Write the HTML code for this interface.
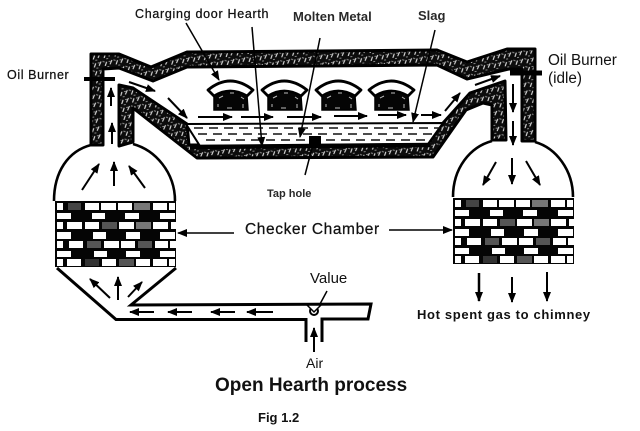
<!DOCTYPE html>
<html><head><meta charset="utf-8"><style>
html,body{margin:0;padding:0;background:#fff}
svg{display:block}
text{font-family:"Liberation Sans",sans-serif;fill:#111}
</style></head><body>
<svg width="640" height="431" viewBox="0 0 640 431" xmlns="http://www.w3.org/2000/svg">
<defs>
<pattern id="h" width="11" height="8" patternUnits="userSpaceOnUse" patternTransform="rotate(-8)">
<rect width="11" height="8" fill="#0c0c0c"/>
<path d="M1 7L3.500 3M7 8L9 4" stroke="#e4e4e4" stroke-width="1.100" fill="none"/>
<path d="M0 4L2 4M5 3L7 4M9 1L11 1" stroke="#888" stroke-width="1"/>
</pattern>
<marker id="a" markerWidth="11" markerHeight="8" refX="9" refY="4" orient="auto" markerUnits="userSpaceOnUse"><path d="M0 0L10 4L0 8Z" fill="#000"/></marker>
<g id="bricks">
<rect x="0" y="0" width="121" height="66" fill="#050505"/>
<g fill="#fff">
<rect x="2" y="2" width="6" height="7"/><rect x="13" y="2" width="13" height="7" fill="#444"/><rect x="30" y="2" width="14" height="7"/><rect x="46" y="2" width="15" height="7"/><rect x="63" y="2" width="14" height="7"/><rect x="79" y="2" width="16" height="7" fill="#777"/><rect x="98" y="2" width="14" height="7"/><rect x="114" y="2" width="6" height="7"/>
<rect x="2" y="12" width="14" height="6"/><rect x="37" y="12" width="13" height="6"/><rect x="70" y="12" width="14" height="6"/><rect x="105" y="12" width="15" height="6"/>
<rect x="2" y="21" width="6" height="7"/><rect x="12" y="21" width="15" height="7"/><rect x="30" y="21" width="14" height="7"/><rect x="47" y="21" width="15" height="7" fill="#555"/><rect x="64" y="21" width="15" height="7"/><rect x="81" y="21" width="15" height="7" fill="#777"/><rect x="98" y="21" width="15" height="7"/><rect x="116" y="21" width="5" height="7"/>
<rect x="2" y="31" width="14" height="7"/><rect x="38" y="31" width="13" height="7"/><rect x="71" y="31" width="14" height="7"/><rect x="105" y="31" width="15" height="7"/>
<rect x="2" y="40" width="6" height="7"/><rect x="14" y="40" width="14" height="7"/><rect x="32" y="40" width="14" height="7" fill="#555"/><rect x="49" y="40" width="15" height="7"/><rect x="66" y="40" width="14" height="7"/><rect x="83" y="40" width="14" height="7" fill="#555"/><rect x="100" y="40" width="13" height="7"/><rect x="115" y="40" width="6" height="7"/>
<rect x="2" y="50" width="14" height="6"/><rect x="39" y="50" width="13" height="6"/><rect x="71" y="50" width="14" height="6"/><rect x="105" y="50" width="15" height="6"/>
<rect x="2" y="58" width="6" height="7"/><rect x="12" y="58" width="14" height="7"/><rect x="30" y="58" width="14" height="7" fill="#333"/><rect x="47" y="58" width="14" height="7"/><rect x="64" y="58" width="15" height="7" fill="#555"/><rect x="81" y="58" width="14" height="7"/><rect x="98" y="58" width="14" height="7"/><rect x="114" y="58" width="6" height="7"/>
</g>
</g>
<g id="door">
<path d="M1 11Q23 -7 46 11L40 17Q23 7 7 17Z" fill="#fff" stroke="#000" stroke-width="2.800" stroke-linejoin="round"/>
<path d="M7 17Q23 8 40 17L41 31L7 31Z" fill="#050505" stroke="#000" stroke-width="1.500"/>
<path d="M12 19L16 17M23 14L27 14M34 18L37 20M36 25L36 29M11 25L11 28M20 29L25 29" stroke="#bbb" stroke-width="1" fill="none"/>
</g>
</defs>
<rect width="640" height="431" fill="#fff"/>

<!-- roof -->
<path d="M91 145L91 54L119 54L151 67L187 52L437 50L467 62L507 49L535 49L535 141L522 141L522 69L509 69L467 79L437 65L187 67L153 81L119 68L103 69L103 145Z" fill="url(#h)" stroke="#000" stroke-width="3" stroke-linejoin="round"/>
<!-- bath floor and inner wall -->
<path d="M119 85L133 88L187 124L189 145L428 144L443 123L470 93L505 81L506 140L492 140L492 105L483 103L466 110L433 157L197 158L133 108L133 142L119 146Z" fill="url(#h)" stroke="#000" stroke-width="3" stroke-linejoin="round"/>
<!-- bath -->
<path d="M186 124L443 123L428 144L200 146Z" fill="#fff" stroke="#000" stroke-width="2"/>
<path d="M190 147L430 145" stroke="#000" stroke-width="4.500"/>
<path d="M194 128H440M198 134H434M206 140H425" stroke="#111" stroke-width="1.600" stroke-dasharray="9 6" fill="none"/>
<rect x="309" y="136" width="12" height="11" fill="#000"/>

<!-- doors -->
<use href="#door" x="207" y="79"/><use href="#door" x="261" y="79"/><use href="#door" x="315" y="79"/><use href="#door" x="368" y="79"/>

<!-- domes -->
<path d="M54 201C54 172 68 151 91 145M133 144C155 150 175 172 175 201" fill="none" stroke="#000" stroke-width="2.600"/>
<path d="M453 197C453 168 470 147 492 141M535 142C556 148 573 170 573 197" fill="none" stroke="#000" stroke-width="2.600"/>

<!-- checkers -->
<use href="#bricks" x="55" y="201"/>
<use href="#bricks" x="453" y="198"/>

<!-- hopper and duct -->
<path d="M57 268L116 319.500L306 319.500L306 342M176 268L131 305L371 304L368 319L322 319L322 342" fill="none" stroke="#000" stroke-width="3"/>
<circle cx="314" cy="311" r="4" fill="#fff" stroke="#000" stroke-width="2"/>
<path d="M307 305L321 305L314 312Z" fill="#fff" stroke="#000" stroke-width="1.500"/>

<!-- burners -->
<path d="M84 79H115" stroke="#000" stroke-width="4"/>
<path d="M510 73H542" stroke="#000" stroke-width="5"/>

<!-- leader lines -->
<g fill="none" stroke="#000" stroke-width="1.500">
<path d="M186 23L219 80" marker-end="url(#a)"/>
<path d="M252 27L262 146" marker-end="url(#a)"/>
<path d="M320 38L300 137" marker-end="url(#a)"/>
<path d="M435 30L413 122" marker-end="url(#a)"/>
<path d="M312 148L305 175"/>
<path d="M234 233H178" marker-end="url(#a)"/>
<path d="M389 230H452" marker-end="url(#a)"/>
<path d="M327 291L320 304"/>
</g>

<!-- flow arrows -->
<g fill="none" stroke="#000" stroke-width="2">
<path d="M111 106V88" marker-end="url(#a)"/><path d="M112 144V123" marker-end="url(#a)"/>
<path d="M129 82L155 91" marker-end="url(#a)"/><path d="M168 98L187 118" marker-end="url(#a)"/>
<path d="M198 117H232" marker-end="url(#a)"/><path d="M241 117H273" marker-end="url(#a)"/><path d="M287 117H321" marker-end="url(#a)"/>
<path d="M334 116H367" marker-end="url(#a)"/><path d="M378 115H406" marker-end="url(#a)"/><path d="M421 115H441" marker-end="url(#a)"/>
<path d="M445 111L460 93" marker-end="url(#a)"/><path d="M475 85L500 76" marker-end="url(#a)"/>
<path d="M513 84V112" marker-end="url(#a)"/><path d="M513 121V145" marker-end="url(#a)"/>
<path d="M82 190L99 164" marker-end="url(#a)"/><path d="M114 186V162" marker-end="url(#a)"/><path d="M145 188L129 166" marker-end="url(#a)"/>
<path d="M496 162L483 185" marker-end="url(#a)"/><path d="M512 158V184" marker-end="url(#a)"/><path d="M526 161L540 185" marker-end="url(#a)"/>
<path d="M110 298L90 279" marker-end="url(#a)"/><path d="M118 300V277" marker-end="url(#a)"/><path d="M128 297L142 282" marker-end="url(#a)"/>
<path d="M154 312H130" marker-end="url(#a)"/><path d="M192 312H168" marker-end="url(#a)"/><path d="M235 312H211" marker-end="url(#a)"/><path d="M273 312H247" marker-end="url(#a)"/>
<path d="M314 352V328" marker-end="url(#a)"/>
<path d="M479 273V301" stroke-width="2.500" marker-end="url(#a)"/><path d="M512 277V302" marker-end="url(#a)"/><path d="M547 272V301" marker-end="url(#a)"/>
</g>

<!-- labels -->
<g stroke="#111" stroke-width=".25">
<text x="135" y="18" font-size="12.500" letter-spacing=".7">Charging door Hearth</text>
<text x="7" y="79" font-size="12.500" letter-spacing=".6">Oil Burner</text>
<text x="245" y="234" font-size="15.500" letter-spacing=".6">Checker Chamber</text>
</g>
<text x="293" y="21" font-size="13" font-weight="bold" fill-opacity=".9">Molten Metal</text>
<text x="418" y="20" font-size="13" font-weight="bold" fill-opacity=".9">Slag</text>
<text x="548" y="65" font-size="15.300">Oil Burner</text>
<text x="548" y="83" font-size="15.300">(idle)</text>
<text x="267" y="197" font-size="11" font-weight="bold" fill-opacity=".9">Tap hole</text>
<text x="310" y="283" font-size="15">Value</text>
<text x="306" y="368" font-size="14">Air</text>
<text x="417" y="319" font-size="13" font-weight="bold" letter-spacing=".65">Hot spent gas to chimney</text>
<text x="215" y="391" font-size="19" font-weight="bold">Open Hearth process</text>
<text x="258" y="422" font-size="13" font-weight="bold">Fig 1.2</text>
</svg>
</body></html>
